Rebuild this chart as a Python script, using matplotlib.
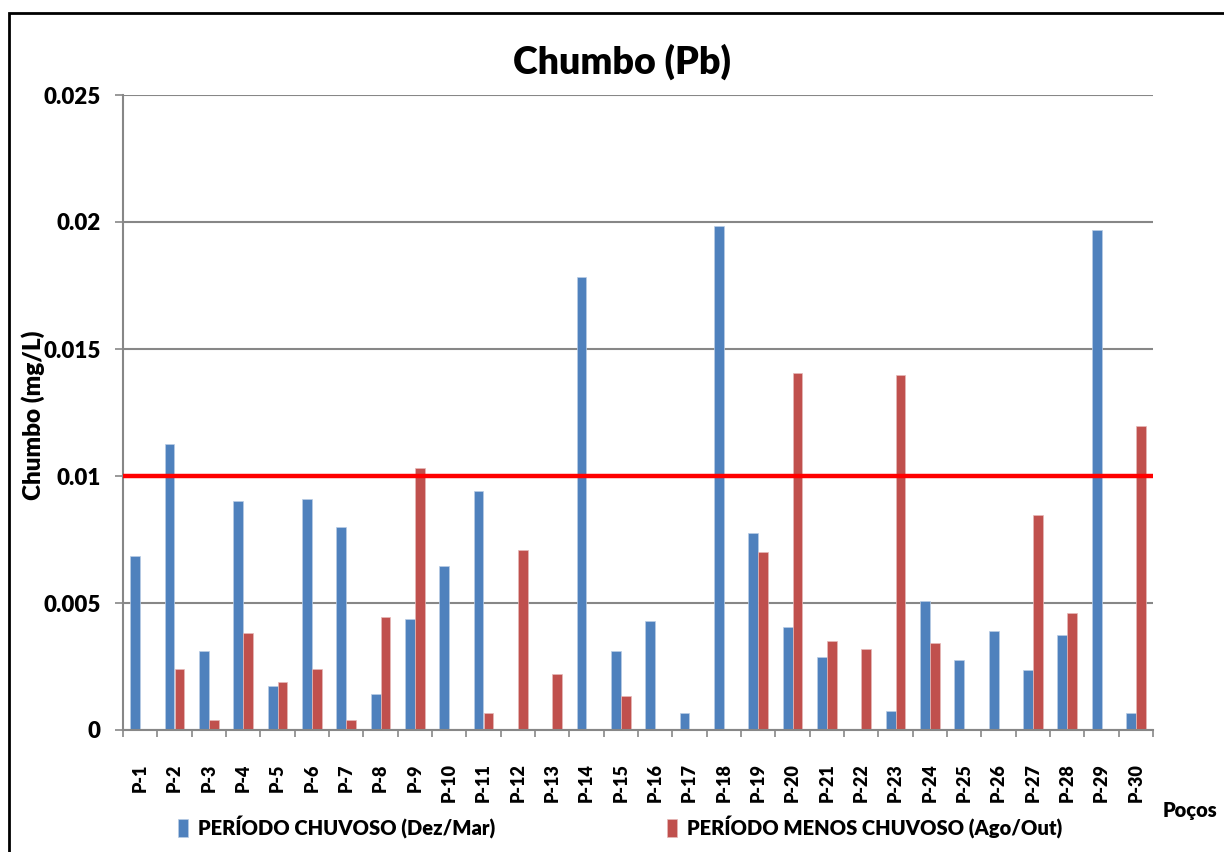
import numpy as np
import matplotlib.pyplot as plt
from matplotlib.patches import Rectangle

# Data (mg/L)
pocos = ['P-%d' % i for i in range(1, 31)]
chuvoso = [0.00686, 0.01126, 0.00311, 0.00902, 0.00173, 0.00911, 0.00799, 0.00141, 0.00437, 0.00646,
           0.00942, 0.0, 0.0, 0.01783, 0.00310, 0.00429, 0.00068, 0.01984, 0.00774, 0.00406,
           0.00286, 0.0, 0.00076, 0.00509, 0.00277, 0.00389, 0.00237, 0.00373, 0.01967, 0.00068]
menos_chuvoso = [0.0, 0.00239, 0.00038, 0.00382, 0.00188, 0.00239, 0.00038, 0.00445, 0.01030, 0.0,
                 0.00068, 0.00710, 0.00220, 0.0, 0.00133, 0.0, 0.0, 0.0, 0.00700, 0.01407,
                 0.00350, 0.00318, 0.01396, 0.00341, 0.0, 0.0, 0.00845, 0.00462, 0.0, 0.01198]
limite = 0.01  # VMP

azul = '#4F81BD'
vermelho = '#C0504D'
cinza = '#878787'
fonte = ['Lato', 'DejaVu Sans']
peso = 'heavy'

fig = plt.figure(figsize=(12.24, 8.52), dpi=100)
ax = fig.add_axes([123 / 1224, 1 - 730 / 852, (1153 - 123) / 1224, (730 - 95) / 852])

x = np.arange(len(pocos))
w = 0.283
ax.bar(x - w / 2, chuvoso, w, color=azul, edgecolor='#b9cde5', linewidth=0.5,
       label='PERÍODO CHUVOSO (Dez/Mar)', zorder=2)
ax.bar(x + w / 2, menos_chuvoso, w, color=vermelho, edgecolor='#e6b9b8', linewidth=0.5,
       label='PERÍODO MENOS CHUVOSO (Ago/Out)', zorder=2)
ax.axhline(limite, color='red', linewidth=3.2, zorder=3)

ax.set_xlim(-0.5, len(pocos) - 0.5)
ax.set_ylim(0, 0.025)
ax.set_yticks([0, 0.005, 0.01, 0.015, 0.02, 0.025])
ax.set_yticklabels(['0', '0.005', '0.01', '0.015', '0.02', '0.025'],
                   fontsize=16, fontweight=peso, family=fonte)
ax.grid(axis='y', color=cinza, linewidth=1.5, zorder=0)
ax.set_axisbelow(True)

ax.set_xticks(x)
ax.set_xticklabels(pocos, rotation=90, fontsize=13, fontweight=peso, family=fonte)
ax.set_xticks(np.arange(-0.5, len(pocos)), minor=True)
ax.tick_params(axis='x', which='major', length=0, pad=24)
ax.tick_params(axis='x', which='minor', length=5, color=cinza, width=1.2)
ax.tick_params(axis='y', length=6, color=cinza, width=1.2, pad=10)

for s in ['top', 'right']:
    ax.spines[s].set_visible(False)
for s in ['left', 'bottom']:
    ax.spines[s].set_color(cinza)
    ax.spines[s].set_linewidth(1.5)

fig.text(622 / 1224, 1 - 62 / 852, 'Chumbo (Pb)', ha='center', va='center',
         fontsize=27, fontweight=peso, family=fonte)
fig.text(33 / 1224, 1 - 415 / 852, 'Chumbo (mg/L)', rotation=90, ha='center', va='center',
         fontsize=17.5, fontweight=peso, family=fonte)
fig.text(1163 / 1224, 1 - 810 / 852, 'Poços', ha='left', va='center',
         fontsize=14.5, fontweight=peso, family=fonte)

leg = fig.legend(loc='center', bbox_to_anchor=(620 / 1224, 1 - 827 / 852), ncol=2,
                 frameon=False, prop={'family': fonte, 'weight': peso, 'size': 14.5},
                 handlelength=0.5, handleheight=1.0, handletextpad=0.5, columnspacing=8.5)

# moldura do gráfico
fig.patches.append(Rectangle((9 / 1224, -0.05), 1.2, 1 - 13 / 852 + 0.05, transform=fig.transFigure,
                             fill=False, edgecolor='black', linewidth=2))

fig.savefig('out.png', dpi=100)
